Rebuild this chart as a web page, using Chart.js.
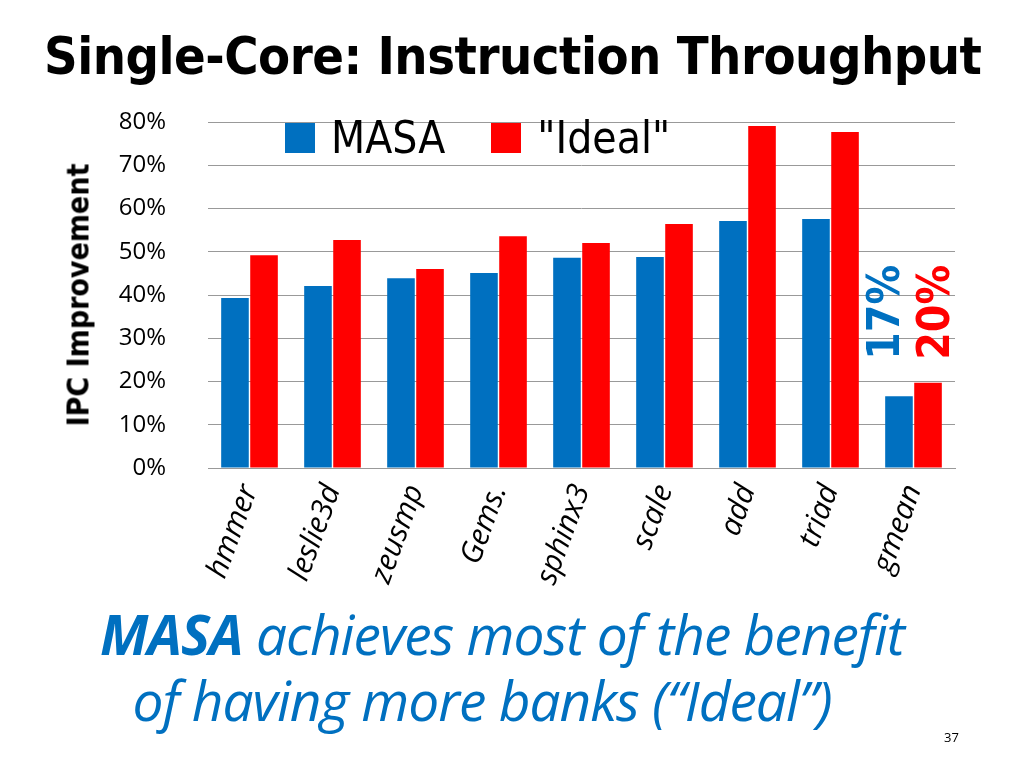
<!DOCTYPE html>
<html><head><meta charset="utf-8">
<script src="https://cdn.jsdelivr.net/npm/chart.js@4"></script>
<style>
body{margin:0;width:1024px;height:768px;background:#fff;position:relative;overflow:hidden;font-family:"Open Sans",sans-serif}
#wrap{position:absolute;left:0;top:0;width:1024px;height:768px}
.t{position:absolute;white-space:nowrap}
</style></head><body>
<div id="wrap"><canvas id="c" width="1024" height="768"></canvas></div>
<div class="t" style="left:44px;top:26px;font-family:'DejaVu Sans Condensed','DejaVu Sans';font-weight:bold;font-size:52px;color:#000;letter-spacing:-0.5px">Single-Core: Instruction Throughput</div>
<div class="t" style="left:78px;top:295px;transform:translate(-50%,-50%) rotate(-90deg);font-family:'DejaVu Sans Condensed';font-weight:bold;font-size:30px;color:#000">IPC Improvement</div>
<div class="t" style="left:285px;top:112px;font-family:'DejaVu Sans Condensed';font-size:44px;color:#000"><span style="display:inline-block;width:30px;height:30px;background:#0070C0;margin-right:16px"></span>MASA<span style="display:inline-block;width:30px;height:30px;background:#FF0000;margin:0 16px 0 46px"></span>"Ideal"</div>
<div class="t" style="left:0;width:1024px;text-align:center;top:596px;font-size:55px;font-style:italic;color:#0070C0;letter-spacing:-1px;padding-right:20px;box-sizing:border-box"><b>MASA</b> achieves most of the benefit</div>
<div class="t" style="left:0;width:1024px;text-align:center;top:662px;font-size:55px;font-style:italic;color:#0070C0;letter-spacing:-1px;padding-right:60px;box-sizing:border-box">of having more banks (“Ideal”)</div>
<div class="t" style="left:944px;top:728px;font-size:13px;color:#000">37</div>
<script>
const categories=["hmmer","leslie3d","zeusmp","Gems.","sphinx3","scale","add","triad","gmean"];
const masa=[39.3,42.1,43.9,45.1,48.6,48.8,57.1,57.6,16.6];
const ideal=[49.2,52.7,46.0,53.6,52.0,56.4,79.1,77.7,19.7];
const gmeanLabels=["17%","20%"];
const overlay={id:'ov',afterDraw(ch){
 const c=ch.ctx,x=ch.scales.x,y=ch.scales.y;
 const xc=x.getPixelForValue(8);
 c.save();c.font='bold 44px "DejaVu Sans Condensed"';c.textBaseline='middle';c.textAlign='center';
 [[gmeanLabels[0],'#0070C0',-26],[gmeanLabels[1],'#FF0000',24]].forEach(([t,col,dx])=>{
  c.save();c.translate(xc+dx,y.getPixelForValue(36));c.rotate(-Math.PI/2);c.fillStyle=col;c.fillText(t,0,0);c.restore();});
 c.restore();}};
new Chart(document.getElementById('c'),{type:'bar',
data:{labels:categories,datasets:[
 {label:'MASA',data:masa,backgroundColor:'#0070C0'},
 {label:'"Ideal"',data:ideal,backgroundColor:'#FF0000'}]},
options:{responsive:false,animation:false,
 layout:{padding:{left:0,right:69,top:122,bottom:0}},
 plugins:{legend:{display:false},tooltip:{enabled:false}},
 datasets:{bar:{categoryPercentage:0.7,barPercentage:0.95}},
 scales:{
  y:{min:0,max:80,afterFit(s){s.width=208;},
   ticks:{stepSize:10,padding:42,color:'#000',font:{size:24,family:'Open Sans'},callback:v=>v+'%'},
   grid:{color:'#999',drawTicks:false},border:{display:false}},
  x:{afterFit(s){s.height=300;},grid:{display:false},border:{color:'#999'},
   ticks:{minRotation:70,maxRotation:70,color:'#000',padding:4,font:{size:30,style:'italic',family:'Open Sans'}}}
 }},plugins:[overlay]});
</script></body></html>
